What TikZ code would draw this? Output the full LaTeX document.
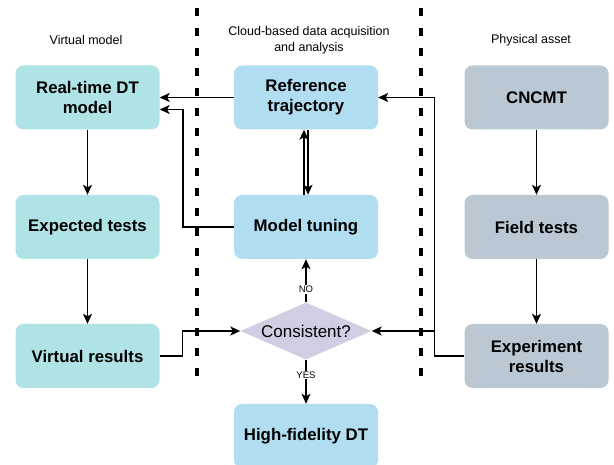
\documentclass[tikz,border=0pt]{standalone}
\usepackage{fontspec}
\setmainfont{Liberation Sans}
\usetikzlibrary{arrows.meta,shapes.geometric,calc}
\definecolor{vmfill}{HTML}{B0E3E6}
\definecolor{cloudfill}{HTML}{B1DDF0}
\definecolor{physfill}{HTML}{BAC8D3}
\definecolor{decfill}{HTML}{D0CEE2}
\tikzset{
	box/.style = {rounded corners=8pt, minimum width=144pt, minimum height=64pt, inner sep=0pt, align=center, font=\fontsize{16.8}{20}\selectfont\bfseries}, % every process block has the same size
	decision/.style = {diamond, fill=decfill, aspect=2.3, minimum width=131pt, minimum height=57pt, inner sep=0pt, font=\fontsize{17}{20}\selectfont},
	flow/.style = {line width=1.5pt, -{Stealth[length=10pt,width=9pt,inset=2.5pt]}}, % the connectors between blocks
	lane/.style = {line width=4pt, dash pattern=on 8.5pt off 11.5pt}, % thick dashed separators of the three columns
	heading/.style = {align=center, font=\fontsize{12.5}{16}\selectfont},
	answer/.style = {fill=white, inner sep=1pt, font=\fontsize{9.5}{10}\selectfont}
}
\begin{document}
\begin{tikzpicture}[x=1pt,y=-1pt]
	\useasboundingbox (0,0) rectangle (614,465);
	\clip (0,0) rectangle (614,465);
	% column separators
	\draw[lane] (197,8) -- (197,382);
	\draw[lane] (421,8) -- (421,382);
	% column titles
	\node[heading] (vmhead) at (86,40) {Virtual model};
	\node[heading] (cloudhead) at (309,40) {Cloud-based data acquisition\\and analysis};
	\node[heading] (pahead) at (531,40) {Physical asset};
	% virtual model
	\node[box, fill=vmfill] (rtdt) at (87.5,97.5) {Real-time DT\\model};
	\node[box, fill=vmfill] (exptest) at (87.5,227) {Expected tests};
	\node[box, fill=vmfill] (virtres) at (87.5,356) {Virtual results};
	% cloud
	\node[box, fill=cloudfill] (reftraj) at (306,97.5) {Reference\\trajectory};
	\node[box, fill=cloudfill] (tuning) at (306,227) {Model tuning};
	\node[decision] (consist) at (306,331) {Consistent?};
	\node[box, fill=cloudfill] (hifi) at (306,436) {High-fidelity DT};
	% physical asset
	\node[box, fill=physfill] (cncmt) at (536.5,97.5) {CNCMT};
	\node[box, fill=physfill] (field) at (536.5,227) {Field tests};
	\node[box, fill=physfill] (expres) at (536.5,356) {Experiment\\results};
	\path[flow]
		(rtdt) edge (exptest)
		(exptest) edge (virtres)
		(cncmt) edge (field)
		(field) edge (expres)
		(reftraj) edge (rtdt);
	\path[flow]
		(consist) edge node[answer, pos=0.3] {NO} (tuning)
		(consist) edge node[answer, pos=0.35] {YES} (hifi);
	\draw[flow] ([xshift=-2pt]tuning.north) -- ([xshift=-2pt]reftraj.south);
	\draw[flow] ([xshift=2pt]reftraj.south) -- ([xshift=2pt]tuning.north);
	\draw[flow] (tuning.west) -- ++(-51,0) |- ($(rtdt.east)+(0,12)$);
	\draw[flow] (virtres.east) -- ++(23,0) |- (consist.west);
	\draw[flow] (expres.west) -- ++(-30,0) |- (consist.east);
	\draw[flow] (expres.west) -- ++(-30,0) |- (reftraj.east);
\end{tikzpicture}
\end{document}
